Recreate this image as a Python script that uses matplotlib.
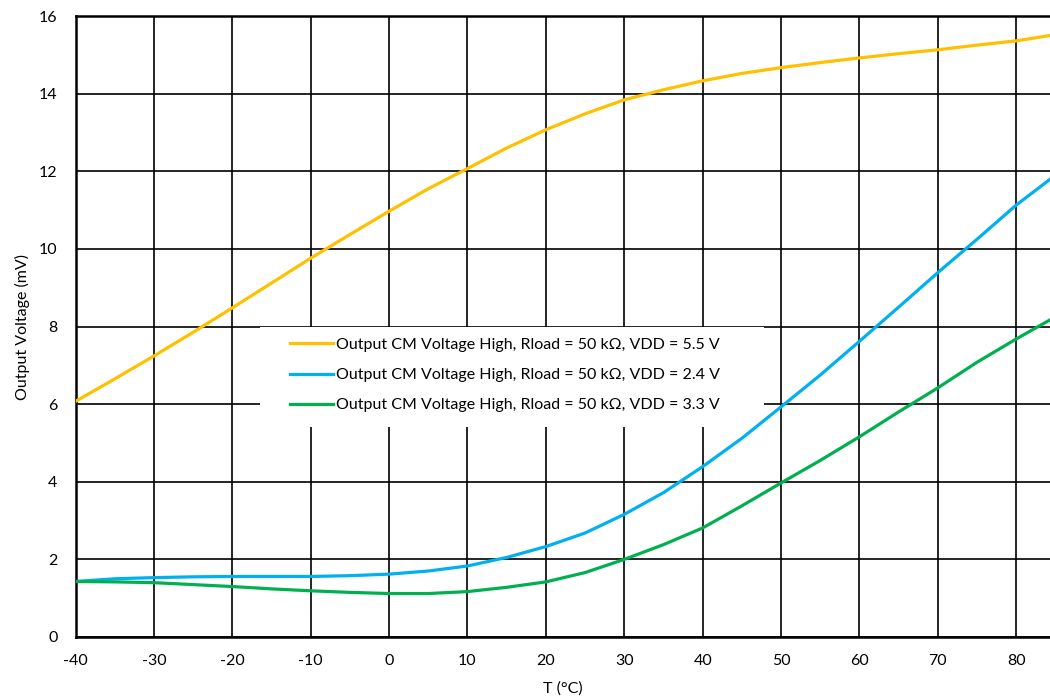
import matplotlib
matplotlib.use("Agg")
import matplotlib.pyplot as plt
from matplotlib.patches import Rectangle

temps = [-40, -35, -30, -25, -20, -15, -10, -5, 0, 5, 10, 15, 20, 25, 30, 35,
         40, 45, 50, 55, 60, 65, 70, 75, 80, 85]
vdd55 = [6.07, 6.65, 7.24, 7.85, 8.48, 9.12, 9.76, 10.37, 10.97, 11.55, 12.07, 12.6,
         13.07, 13.48, 13.84, 14.1, 14.33, 14.52, 14.67, 14.8, 14.92, 15.03, 15.13,
         15.25, 15.36, 15.52]
vdd24 = [1.43, 1.50, 1.53, 1.55, 1.56, 1.56, 1.56, 1.58, 1.62, 1.70, 1.83, 2.05,
         2.33, 2.68, 3.16, 3.72, 4.39, 5.12, 5.93, 6.75, 7.62, 8.5, 9.39, 10.25,
         11.13, 11.9]
vdd33 = [1.43, 1.42, 1.40, 1.35, 1.30, 1.24, 1.19, 1.15, 1.12, 1.12, 1.17, 1.28,
         1.42, 1.66, 2.0, 2.38, 2.81, 3.38, 3.97, 4.55, 5.16, 5.8, 6.42, 7.08,
         7.68, 8.25]

labels = ["Output CM Voltage High, Rload = 50 k\u03a9, VDD = 5.5 V",
          "Output CM Voltage High, Rload = 50 k\u03a9, VDD = 2.4 V",
          "Output CM Voltage High, Rload = 50 k\u03a9, VDD = 3.3 V"]
colors = ["#FFC000", "#00B0F0", "#00B050"]
xticks = [-40, -30, -20, -10, 0, 10, 20, 30, 40, 50, 60, 70, 80]
yticks = [0, 2, 4, 6, 8, 10, 12, 14, 16]

plt.rcParams['font.family'] = ['Lato', 'DejaVu Sans']
plt.rcParams['axes.unicode_minus'] = False

FS = 11.5

fig = plt.figure(figsize=(10.5, 7), dpi=100)
ax = fig.add_axes([75.5 / 1050, 1 - 637 / 700, 1 - 75.5 / 1050, 621 / 700])

ax.set_xlim(-40, 84.3)
ax.set_ylim(0, 16)
ax.set_xticks(xticks)
ax.set_yticks(yticks)
ax.grid(True, color='black', linewidth=1.2, zorder=1)
ax.set_axisbelow(True)
ax.tick_params(length=0, labelsize=FS, pad=12)
ax.tick_params(axis='y', pad=13)

for s in ['left', 'top', 'bottom']:
    ax.spines[s].set_linewidth(1.8)
    ax.spines[s].set_color('black')
ax.spines['right'].set_visible(False)

# white box behind legend hiding the grid
ax.add_patch(Rectangle((-16.5, 5.41), 64.3, 2.57, facecolor='white',
                       edgecolor='none', zorder=1.5))

for y, c, lab in zip([vdd55, vdd24, vdd33], colors, labels):
    ax.plot(temps, y, color=c, linewidth=2.3, label=lab, zorder=3,
            solid_joinstyle='round', clip_on=True)

leg = ax.legend(loc='center left', bbox_to_anchor=((290 - 75.5) / 974.5, (637 - 375) / 621),
                frameon=False, fontsize=FS, handlelength=2.7, handletextpad=0.2,
                labelspacing=1.0, borderpad=0, borderaxespad=0)

ax.set_xlabel("T (\u00b0C)", fontsize=FS, labelpad=10)
ax.set_ylabel("Output Voltage (mV)", fontsize=FS, labelpad=6)

fig.savefig("out.png", dpi=100)
